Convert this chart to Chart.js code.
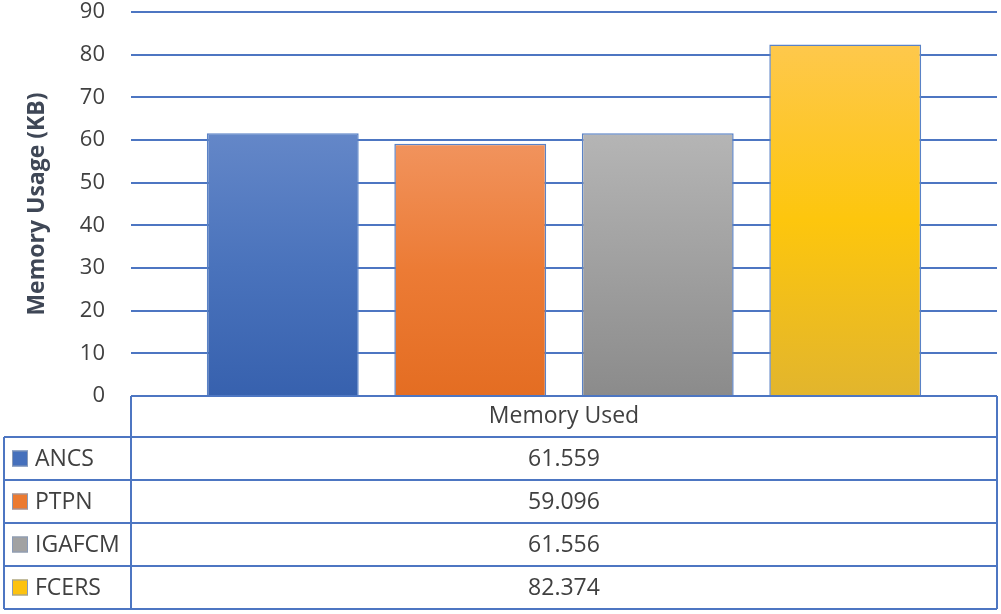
<!DOCTYPE html>
<html>
<head>
<meta charset="utf-8">
<script src="https://cdn.jsdelivr.net/npm/chart.js@4.4.0/dist/chart.umd.min.js"></script>
<style>
  html, body { margin: 0; padding: 0; background: #fff; }
  #wrap { width: 1001px; height: 614px; }
</style>
</head>
<body>
<div id="wrap"><canvas id="chart" width="1001" height="614"></canvas></div>
<script>
//------------------ Data ------------------//
const categories = ['Memory Used'];
const seriesNames = ['ANCS', 'PTPN', 'IGAFCM', 'FCERS'];
const memoryValues = [61.559, 59.096, 61.556, 82.374];
const yTicks = [0, 10, 20, 30, 40, 50, 60, 70, 80, 90];

// gradient stops per series: top, middle, bottom
const barStops = [
  ['#6487c8', '#4a73bc', '#3761ae'],
  ['#f1935d', '#ec7b35', '#e46d22'],
  ['#b5b5b5', '#a0a0a0', '#8b8b8b'],
  ['#fec84c', '#fdc60d', '#e2b52d']
];
const keyColors = ['#4570bc', '#ec7a30', '#a2a2a2', '#fcc20f'];

const lineBlue = '#4d76c2';
const textColor = '#404040';
const fontFamily = '"Open Sans", "Noto Sans", sans-serif';

function barGradient(i) {
  return function(ctx) {
    const chart = ctx.chart;
    const area = chart.chartArea;
    if (!area) return barStops[i][1];
    const top = chart.scales.y.getPixelForValue(memoryValues[i]);
    const g = chart.ctx.createLinearGradient(0, top, 0, area.bottom);
    g.addColorStop(0, barStops[i][0]);
    g.addColorStop(0.5, barStops[i][1]);
    g.addColorStop(1, barStops[i][2]);
    return g;
  };
}

//------------------ Data table under the plot ------------------//
const dataTable = {
  id: 'dataTable',
  afterDraw(chart) {
    const c = chart.ctx;
    const area = chart.chartArea;
    const left = 4, split = area.left, right = area.right;
    const top = area.bottom;
    const headerH = 41, rowH = 43;
    const rowsTop = top + headerH;
    const bottom = rowsTop + rowH * seriesNames.length;

    c.save();
    c.strokeStyle = lineBlue;
    c.lineWidth = 2;
    c.beginPath();
    // header box
    c.moveTo(split, top); c.lineTo(right, top);
    c.moveTo(split, top); c.lineTo(split, bottom);
    c.moveTo(right, top); c.lineTo(right, bottom);
    // rows
    for (let r = 0; r <= seriesNames.length; r++) {
      const y = rowsTop + r * rowH;
      c.moveTo(left, y); c.lineTo(right, y);
    }
    c.moveTo(left, rowsTop); c.lineTo(left, bottom);
    c.stroke();

    c.fillStyle = textColor;
    c.font = '23px ' + fontFamily;
    c.textBaseline = 'middle';
    c.textAlign = 'center';
    const midX = (split + right) / 2;
    c.fillText(categories[0], midX, top + headerH / 2);

    seriesNames.forEach((name, i) => {
      const y = rowsTop + i * rowH + rowH / 2;
      // legend key
      c.fillStyle = keyColors[i];
      c.fillRect(12, y - 8, 16, 16);
      c.strokeStyle = '#8a9bb8';
      c.lineWidth = 1;
      c.strokeRect(12.5, y - 7.5, 15, 15);
      c.fillStyle = textColor;
      c.textAlign = 'left';
      c.fillText(name, 35, y + 1);
      c.textAlign = 'center';
      c.fillText(memoryValues[i].toFixed(3), midX, y + 1);
    });
    c.restore();
  }
};

//------------------ Chart ------------------//
const datasets = seriesNames.map((name, i) => ({
  label: name,
  data: [memoryValues[i]],
  backgroundColor: barGradient(i),
  borderColor: '#5a82c6',
  borderWidth: 1.5,
  barPercentage: 0.81,
  categoryPercentage: 0.866
}));

new Chart(document.getElementById('chart'), {
  type: 'bar',
  data: { labels: categories, datasets },
  options: {
    responsive: false,
    animation: false,
    layout: { padding: { left: 0, right: 4, top: 12, bottom: 218 } },
    plugins: { legend: { display: false }, tooltip: { enabled: false } },
    scales: {
      x: { display: false },
      y: {
        min: 0,
        max: 90,
        afterBuildTicks(scale) { scale.ticks = yTicks.map(v => ({ value: v })); },
        afterFit(scale) {
          scale.width = 131;
          scale.paddingTop = 0;
          scale.paddingBottom = 0;
        },
        border: { display: false },
        grid: { color: lineBlue, lineWidth: 2, drawTicks: false },
        ticks: {
          padding: 26,
          color: textColor,
          font: { family: fontFamily, size: 22 }
        },
        title: {
          display: true,
          text: 'Memory Usage (KB)',
          color: '#3f4756',
          font: { family: fontFamily, size: 23, weight: 'bold' },
          padding: { top: 24, bottom: 0 }
        }
      }
    }
  },
  plugins: [dataTable]
});
</script>
</body>
</html>
